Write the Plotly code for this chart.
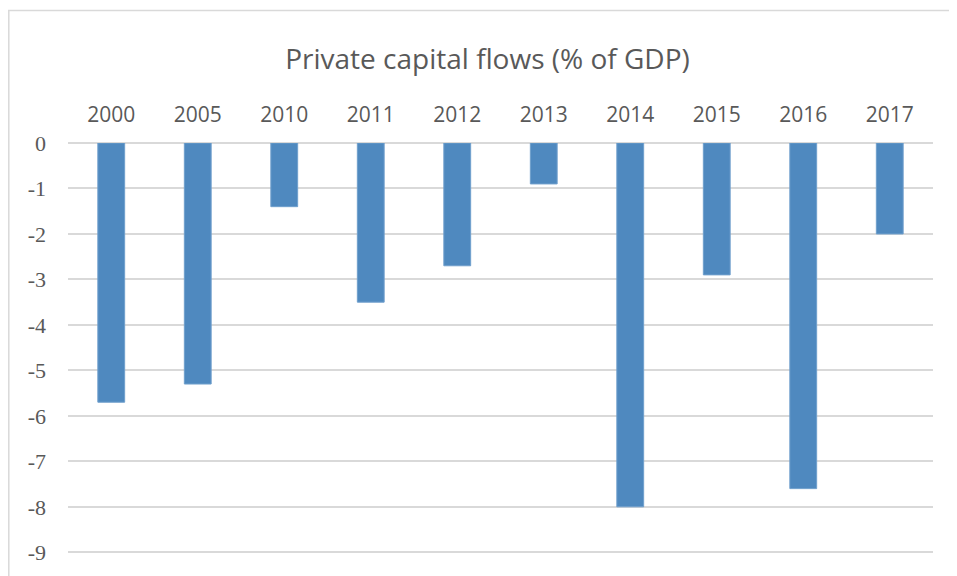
import plotly.graph_objects as go

years = ["2000", "2005", "2010", "2011", "2012", "2013", "2014", "2015", "2016", "2017"]
values = [-5.7, -5.3, -1.4, -3.5, -2.7, -0.9, -8.0, -2.9, -7.6, -2.0]
y_ticks = [0, -1, -2, -3, -4, -5, -6, -7, -8, -9]
title_text = "Private capital flows (% of GDP)"

W, H = 957, 576
OFF = 8  # page body margin
L, R, T, B = 68 - OFF, 32, 143 - OFF, 29
pw = W - L - R
ph = H - T - B

fig = go.Figure(go.Bar(
    x=years, y=values,
    marker=dict(color="#4F89BF", line=dict(color="#6F9FCC", width=1)),
    width=0.31,
))

def px2paper_x(px):
    return (px - OFF - L) / pw

def px2paper_y(py):
    return (H - B - (py - OFF)) / ph

fig.add_shape(type="line", xref="paper", yref="paper",
              x0=px2paper_x(8.8), x1=px2paper_x(8.8), y0=px2paper_y(10), y1=px2paper_y(600),
              line=dict(color="#D9D9D9", width=1.5))
fig.add_shape(type="line", xref="paper", yref="paper",
              x0=px2paper_x(8), x1=px2paper_x(990), y0=px2paper_y(10.5), y1=px2paper_y(10.5),
              line=dict(color="#D9D9D9", width=1.5))

fig.update_layout(
    width=W, height=H,
    margin=dict(l=L, r=R, t=T, b=B),
    paper_bgcolor="white", plot_bgcolor="white",
    showlegend=False,
    title=dict(text=title_text, x=(487.5 - OFF) / W, xref="container", xanchor="center",
               y=1 - (59 - OFF) / H, yanchor="middle",
               font=dict(family="Open Sans", size=28, color="#595959")),
    xaxis=dict(side="top", type="category", showgrid=False, zeroline=False, showline=False,
               ticks="", ticklabelstandoff=16,
               tickfont=dict(family="Open Sans", size=21, color="#595959")),
    yaxis=dict(range=[-9.06, 0], tickvals=y_ticks, ticktext=[str(v) for v in y_ticks],
               showgrid=True, gridcolor="#D9D9D9", gridwidth=1.5,
               zeroline=True, zerolinecolor="#D9D9D9", zerolinewidth=1.5,
               showline=False, ticks="", ticklabelstandoff=21,
               tickfont=dict(family="Liberation Serif, Times New Roman, serif", size=22, color="#595959")),
)

fig.write_html("out.html")
